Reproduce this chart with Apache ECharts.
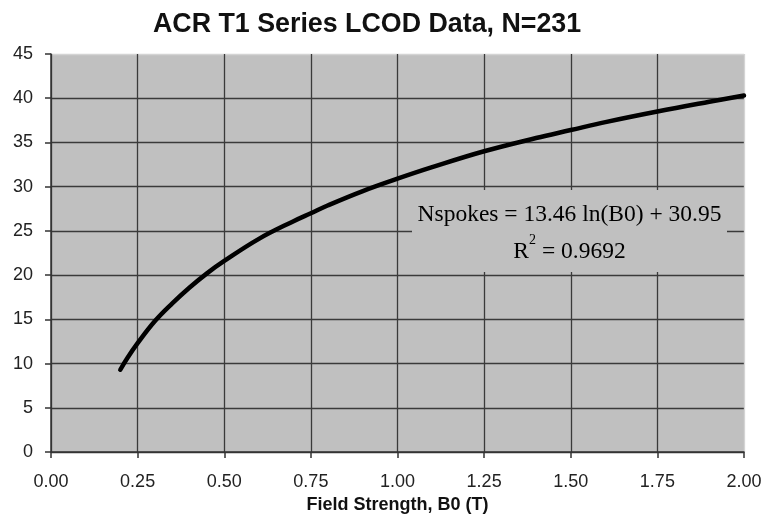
<!DOCTYPE html>
<html><head><meta charset="utf-8">
<script src="https://cdn.jsdelivr.net/npm/echarts@6/dist/echarts.min.js"></script>
<style>html,body{margin:0;padding:0;background:#fff}#c{width:766px;height:523px}</style>
</head><body><div id="c"></div>
<script>
var titleText = "ACR T1 Series LCOD Data, N=231";
var xName = "Field Strength, B0 (T)";
var fieldStrength = [0.20,0.22,0.25,0.30,0.35,0.40,0.45,0.50,0.60,0.70,0.75,0.80,0.90,1.00,1.10,1.25,1.40,1.50,1.60,1.75,1.90,2.00];
var nspokes       = [9.3,10.6,12.3,14.8,16.8,18.6,20.2,21.6,24.1,26.1,27.0,27.9,29.5,30.9,32.2,34.0,35.5,36.4,37.3,38.5,39.6,40.3];
var eqLine1 = "Nspokes = 13.46 ln(B0) + 30.95";
var eqR2 = "0.9692";

var chart = echarts.init(document.getElementById('c'), null, {renderer:'canvas'});
var pts = fieldStrength.map(function(x,i){return [x, nspokes[i]];});
var sans = "Liberation Sans, Arial, sans-serif";
var serif = "Liberation Serif, Times New Roman, serif";
var dark = '#3a3a3a', light = '#d4d4d4';
chart.setOption({
  animation:false,
  backgroundColor:'#ffffff',
  title:{text:titleText,left:153,top:11,padding:[0,0,0,0],
    textStyle:{fontFamily:sans,fontWeight:'bold',fontSize:26.8,color:'#111'}},
  grid:{left:51,right:22,top:54,bottom:71,show:true,backgroundColor:'#c0c0c0',borderWidth:0,
    containLabel:false,outerBoundsMode:'none'},
  xAxis:{type:'value',min:0,max:2,interval:0.25,
    name:xName,nameLocation:'middle',nameGap:42,
    nameTextStyle:{fontFamily:sans,fontWeight:'bold',fontSize:18,color:'#111'},
    axisLine:{show:true,lineStyle:{color:'#333',width:1.5}},
    axisTick:{show:true,length:6,lineStyle:{color:'#333',width:1.5}},
    axisLabel:{fontFamily:sans,fontSize:18,color:'#222',margin:21,formatter:function(v){return v.toFixed(2);}},
    splitLine:{show:true,lineStyle:{color:[dark,dark,dark,dark,dark,dark,dark,dark,light],width:1.3}}},
  yAxis:{type:'value',min:0,max:45,interval:5,
    axisLine:{show:true,lineStyle:{color:'#333',width:1.5}},
    axisTick:{show:true,length:6,lineStyle:{color:'#333',width:1.5}},
    axisLabel:{fontFamily:sans,fontSize:18,color:'#222',margin:18},
    splitLine:{show:true,lineStyle:{color:[dark,dark,dark,dark,dark,dark,dark,dark,dark,light],width:1.3}}},
  series:[{type:'line',data:pts,smooth:0.4,showSymbol:false,lineStyle:{color:'#000',width:4.5,cap:'round'},z:3}],
  graphic:[{type:'text',left:412,top:190,z:10,
    style:{text:'{a|'+eqLine1+'}\n{a|R}{s|2}{a| = '+eqR2+'}',
      backgroundColor:'#c0c0c0',padding:[6,10,2,10],align:'center',
      width:295,
      rich:{a:{fontFamily:serif,fontSize:23.5,color:'#222',lineHeight:37,align:'center'},
            s:{fontFamily:serif,fontSize:14,color:'#222',verticalAlign:'top',lineHeight:27}}}}]
});
</script></body></html>
